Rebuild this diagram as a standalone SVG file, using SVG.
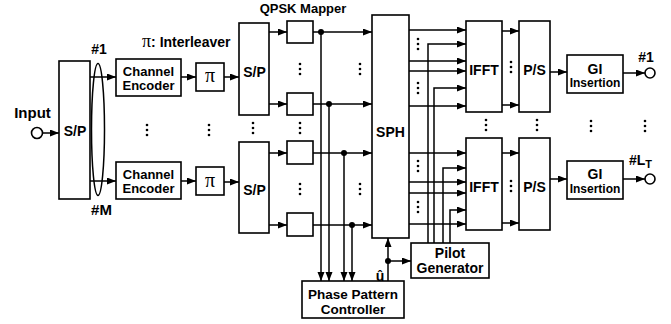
<svg xmlns="http://www.w3.org/2000/svg" xmlns:xlink="http://www.w3.org/1999/xlink" width="671" height="324" viewBox="0 0 671 324">
<style>
.box{fill:#fff;stroke:#000;stroke-width:1.6}
.ln{fill:none;stroke:#000;stroke-width:1.5}
.ar{marker-end:url(#ah)}
.t{font-family:"Liberation Sans",Arial,sans-serif;font-weight:bold;fill:#000;text-anchor:middle}
.s14{font-size:14px}
.s13{font-size:13px}
.s12{font-size:12px}
.pi{font-family:"Liberation Serif","Times New Roman",serif;fill:#000}
.dot{fill:#000}
</style>
<defs>
<marker id="ah" markerUnits="userSpaceOnUse" markerWidth="10" markerHeight="8" refX="9" refY="3.5" orient="auto">
<path d="M0,0 L9,3.5 L0,7 z" fill="#000"/>
</marker>
<g id="vd"><circle cx="0" cy="-5" r="1.3"/><circle cx="0" cy="0" r="1.3"/><circle cx="0" cy="5" r="1.3"/></g>
</defs>
<rect width="671" height="324" fill="#fff"/>

<g id="connectors">
<line class="ln ar" x1="42.5" y1="133" x2="59" y2="133"/>
<line class="ln ar" x1="90" y1="77" x2="116" y2="77"/>
<line class="ln ar" x1="90" y1="181" x2="116" y2="181"/>
<ellipse cx="98" cy="129.5" rx="6.5" ry="66" class="ln"/>
<line class="ln ar" x1="181" y1="77" x2="196" y2="77"/>
<line class="ln ar" x1="181" y1="181" x2="196" y2="181"/>
<line class="ln ar" x1="224" y1="77" x2="239" y2="77"/>
<line class="ln ar" x1="224" y1="182" x2="239" y2="182"/>
<line class="ln ar" x1="269" y1="32" x2="287" y2="32"/>
<line class="ln ar" x1="269" y1="104" x2="287" y2="104"/>
<line class="ln ar" x1="269" y1="153" x2="287" y2="153"/>
<line class="ln ar" x1="269" y1="225" x2="287" y2="225"/>
<line class="ln ar" x1="313" y1="32" x2="372" y2="32"/>
<line class="ln ar" x1="313" y1="104" x2="372" y2="104"/>
<line class="ln ar" x1="313" y1="153" x2="372" y2="153"/>
<line class="ln ar" x1="313" y1="225" x2="372" y2="225"/>
<line class="ln ar" x1="321" y1="32" x2="321" y2="281"/>
<line class="ln ar" x1="329" y1="104" x2="329" y2="281"/>
<line class="ln ar" x1="344" y1="153" x2="344" y2="281"/>
<line class="ln ar" x1="352" y1="225" x2="352" y2="281"/>
<circle class="dot" cx="321" cy="32" r="3"/>
<circle class="dot" cx="329" cy="104" r="3"/>
<circle class="dot" cx="344" cy="153" r="3"/>
<circle class="dot" cx="352" cy="225" r="3"/>
<line class="ln ar" x1="388" y1="281" x2="388" y2="238"/>
<line class="ln ar" x1="388" y1="261" x2="411" y2="261"/>
<circle class="dot" cx="388" cy="261" r="3"/>
<line class="ln ar" x1="409" y1="30" x2="466" y2="30"/>
<line class="ln ar" x1="409" y1="61" x2="466" y2="61"/>
<line class="ln ar" x1="409" y1="71" x2="466" y2="71"/>
<line class="ln ar" x1="409" y1="106" x2="466" y2="106"/>
<line class="ln ar" x1="409" y1="153" x2="466" y2="153"/>
<line class="ln ar" x1="409" y1="182" x2="466" y2="182"/>
<line class="ln ar" x1="409" y1="193" x2="466" y2="193"/>
<line class="ln ar" x1="409" y1="224" x2="466" y2="224"/>
<polyline class="ln ar" points="428,243 428,44 466,44"/>
<polyline class="ln ar" points="434,243 434,88 466,88"/>
<polyline class="ln ar" points="443,243 443,168 466,168"/>
<polyline class="ln ar" points="450,243 450,210 466,210"/>
<line class="ln ar" x1="502" y1="31" x2="519" y2="31"/>
<line class="ln ar" x1="502" y1="105" x2="519" y2="105"/>
<line class="ln ar" x1="502" y1="153" x2="519" y2="153"/>
<line class="ln ar" x1="502" y1="223" x2="519" y2="223"/>
<line class="ln ar" x1="550" y1="72" x2="567" y2="72"/>
<line class="ln ar" x1="550" y1="179" x2="567" y2="179"/>
<line class="ln ar" x1="623" y1="73" x2="645" y2="73"/>
<line class="ln ar" x1="623" y1="179" x2="645" y2="179"/>
</g>

<g id="ellipses" class="dot">
<use xlink:href="#vd" x="147" y="130"/>
<use xlink:href="#vd" x="209" y="130"/>
<use xlink:href="#vd" x="253" y="128"/>
<use xlink:href="#vd" x="300" y="69"/>
<use xlink:href="#vd" x="300" y="128"/>
<use xlink:href="#vd" x="300" y="189"/>
<use xlink:href="#vd" x="360" y="69"/>
<use xlink:href="#vd" x="360" y="189"/>
<use xlink:href="#vd" x="418" y="44"/>
<use xlink:href="#vd" x="418" y="88"/>
<use xlink:href="#vd" x="418" y="166"/>
<use xlink:href="#vd" x="418" y="207"/>
<use xlink:href="#vd" x="486" y="125"/>
<use xlink:href="#vd" x="511" y="67"/>
<use xlink:href="#vd" x="511" y="186"/>
<use xlink:href="#vd" x="537" y="125"/>
<use xlink:href="#vd" x="591" y="126"/>
<use xlink:href="#vd" x="645" y="126"/>
</g>

<g id="input">
<text class="t" x="32.5" y="118" style="font-size:15px">Input</text>
<circle cx="37" cy="133" r="5.5" class="box" stroke-width="1.4"/>
</g>
<g id="sp1">
<rect class="box" x="59" y="61" width="31" height="138"/>
<text class="t s14" x="75" y="136">S/P</text>
</g>
<g id="bus-labels">
<text class="t s14" x="99" y="54">#1</text>
<text class="t" x="101.5" y="215" style="font-size:15px">#M</text>
</g>
<g id="enc1">
<rect class="box" x="116" y="59" width="65" height="37"/>
<text class="t s13" x="148.5" y="76">Channel</text>
<text class="t s13" x="148.5" y="90">Encoder</text>
</g>
<g id="enc2">
<rect class="box" x="116" y="162" width="65" height="37"/>
<text class="t s13" x="148.5" y="179">Channel</text>
<text class="t s13" x="148.5" y="193">Encoder</text>
</g>
<g id="pi1">
<rect class="box" x="196" y="63" width="28" height="28"/>
<text class="pi" x="210" y="82" text-anchor="middle" style="font-size:20px">π</text>
</g>
<g id="pi2">
<rect class="box" x="196" y="167" width="28" height="28"/>
<text class="pi" x="210" y="187" text-anchor="middle" style="font-size:20px">π</text>
</g>
<g id="legend-pi">
<text x="142" y="47"><tspan class="pi" style="font-size:18px">π</tspan><tspan style="font-family:'Liberation Sans',Arial,sans-serif;font-weight:bold;font-size:14px">: Interleaver</tspan></text>
</g>
<g id="sp2">
<rect class="box" x="239" y="23" width="30" height="92"/>
<text class="t s14" x="254.5" y="77">S/P</text>
</g>
<g id="sp3">
<rect class="box" x="239" y="142" width="30" height="91"/>
<text class="t s14" x="254.5" y="195">S/P</text>
</g>
<g id="qpsk-label">
<text class="t s13" x="303" y="13">QPSK Mapper</text>
</g>
<g id="q1"><rect class="box" x="287" y="21" width="26" height="22"/></g>
<g id="q2"><rect class="box" x="287" y="93" width="26" height="22"/></g>
<g id="q3"><rect class="box" x="287" y="141" width="26" height="23"/></g>
<g id="q4"><rect class="box" x="287" y="213" width="26" height="23"/></g>
<g id="sph">
<rect class="box" x="372" y="15" width="37" height="223"/>
<text class="t s14" x="390.5" y="137">SPH</text>
</g>
<g id="ppc">
<rect class="box" x="302" y="281" width="102" height="37"/>
<text class="t" x="353" y="298.5" style="font-size:13.5px">Phase Pattern</text>
<text class="t" x="353" y="314" style="font-size:13.5px">Controller</text>
</g>
<g id="uhat">
<text class="t s14" x="380" y="281">û</text>
</g>
<g id="pilot">
<rect class="box" x="411" y="243" width="78" height="35"/>
<text class="t s14" x="450" y="258">Pilot</text>
<text class="t s14" x="450" y="273">Generator</text>
</g>
<g id="ifft1">
<rect class="box" x="466" y="21" width="36" height="91"/>
<text class="t s14" x="484" y="75">IFFT</text>
</g>
<g id="ifft2">
<rect class="box" x="466" y="138" width="36" height="92"/>
<text class="t s14" x="484" y="192">IFFT</text>
</g>
<g id="ps1">
<rect class="box" x="519" y="21" width="31" height="91"/>
<text class="t s14" x="534.5" y="75">P/S</text>
</g>
<g id="ps2">
<rect class="box" x="519" y="138" width="31" height="92"/>
<text class="t s14" x="534.5" y="192">P/S</text>
</g>
<g id="gi1">
<rect class="box" x="567" y="55" width="56" height="38"/>
<text class="t s14" x="595" y="74">GI</text>
<text class="t s12" x="595" y="87">Insertion</text>
</g>
<g id="gi2">
<rect class="box" x="567" y="161" width="56" height="38"/>
<text class="t s14" x="595" y="179">GI</text>
<text class="t s12" x="595" y="192.5">Insertion</text>
</g>
<g id="out1">
<circle class="box" cx="650" cy="73" r="5" stroke-width="1.4"/>
<text class="t s14" x="646" y="62">#1</text>
</g>
<g id="out2">
<circle class="box" cx="650" cy="179" r="5" stroke-width="1.4"/>
<text x="629" y="165" style="font-family:'Liberation Sans',Arial,sans-serif;font-weight:bold;font-size:14px">#L<tspan dy="3" style="font-size:11px">T</tspan></text>
</g>
</svg>
